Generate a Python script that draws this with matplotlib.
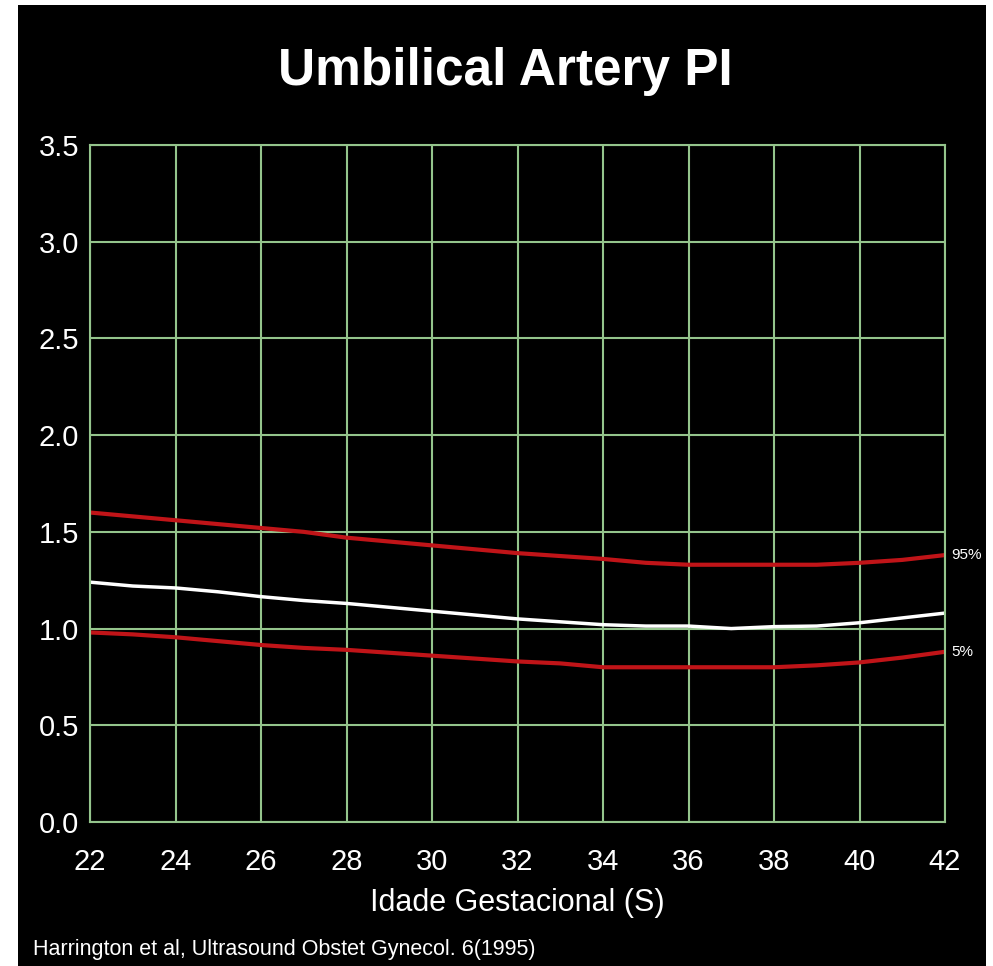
import matplotlib
matplotlib.use("Agg")
import matplotlib.pyplot as plt
from matplotlib.patches import Rectangle

# gestational age (weeks) and PI percentiles
weeks = list(range(22, 43))
p95 = [1.60, 1.58, 1.56, 1.54, 1.52, 1.50, 1.47, 1.45, 1.43, 1.41, 1.39,
       1.375, 1.36, 1.34, 1.33, 1.33, 1.33, 1.33, 1.34, 1.355, 1.38]
p50 = [1.24, 1.22, 1.21, 1.19, 1.165, 1.145, 1.13, 1.11, 1.09, 1.07, 1.05,
       1.035, 1.02, 1.013, 1.013, 1.00, 1.01, 1.013, 1.03, 1.055, 1.08]
p05 = [0.98, 0.97, 0.955, 0.935, 0.915, 0.90, 0.89, 0.875, 0.86, 0.845, 0.83,
       0.82, 0.80, 0.80, 0.80, 0.80, 0.80, 0.81, 0.825, 0.85, 0.88]

xticks = list(range(22, 43, 2))
yticks = [0.0, 0.5, 1.0, 1.5, 2.0, 2.5, 3.0, 3.5]

FONT = "Liberation Sans"
GRID = "#94c48c"

fig = plt.figure(figsize=(9.93, 9.66), dpi=100, facecolor="white")
# black panel inside the thin white margin
fig.patches.append(Rectangle((18 / 993, 0), (986 - 18) / 993, 1 - 5 / 966,
                             transform=fig.transFigure, facecolor="black",
                             edgecolor="none", zorder=-10))

ax = fig.add_axes([90 / 993, 1 - 822 / 966, (945 - 90) / 993, (822 - 145) / 966])
ax.set_facecolor("black")

ax.plot(weeks, p95, color="#c01418", lw=3)
ax.plot(weeks, p05, color="#c01418", lw=3)
ax.plot(weeks, p50, color="white", lw=2.5)

ax.set_xlim(22, 42)
ax.set_ylim(0, 3.5)
ax.set_xticks(xticks)
ax.set_yticks(yticks)
ax.set_yticklabels([f"{v:.1f}" for v in yticks])
ax.grid(True, color=GRID, lw=1.5)
for s in ax.spines.values():
    s.set_color(GRID)
    s.set_linewidth(1.5)
ax.tick_params(length=0, colors="white", labelsize=21)
ax.tick_params(axis="x", pad=19)
ax.tick_params(axis="y", pad=8)
for lbl in ax.get_xticklabels() + ax.get_yticklabels():
    lbl.set_fontfamily(FONT)

ax.set_xlabel("Idade Gestacional (S)", color="white", fontsize=22,
              fontfamily=FONT, labelpad=8)

ax.text(42.15, p95[-1], "95%", color="white", fontsize=11, fontfamily=FONT,
        va="center", ha="left", clip_on=False)
ax.text(42.15, p05[-1], "5%", color="white", fontsize=11, fontfamily=FONT,
        va="center", ha="left", clip_on=False)

fig.text(505 / 993, 1 - 72 / 966, "Umbilical Artery PI", color="white",
         fontsize=37, fontweight="bold", fontfamily=FONT, ha="center", va="center")
fig.text(33 / 993, 1 - 949 / 966, "Harrington et al, Ultrasound Obstet Gynecol. 6(1995)",
         color="white", fontsize=15.5, fontfamily=FONT, ha="left", va="center")

fig.savefig("out.png", dpi=100, facecolor=fig.get_facecolor())
